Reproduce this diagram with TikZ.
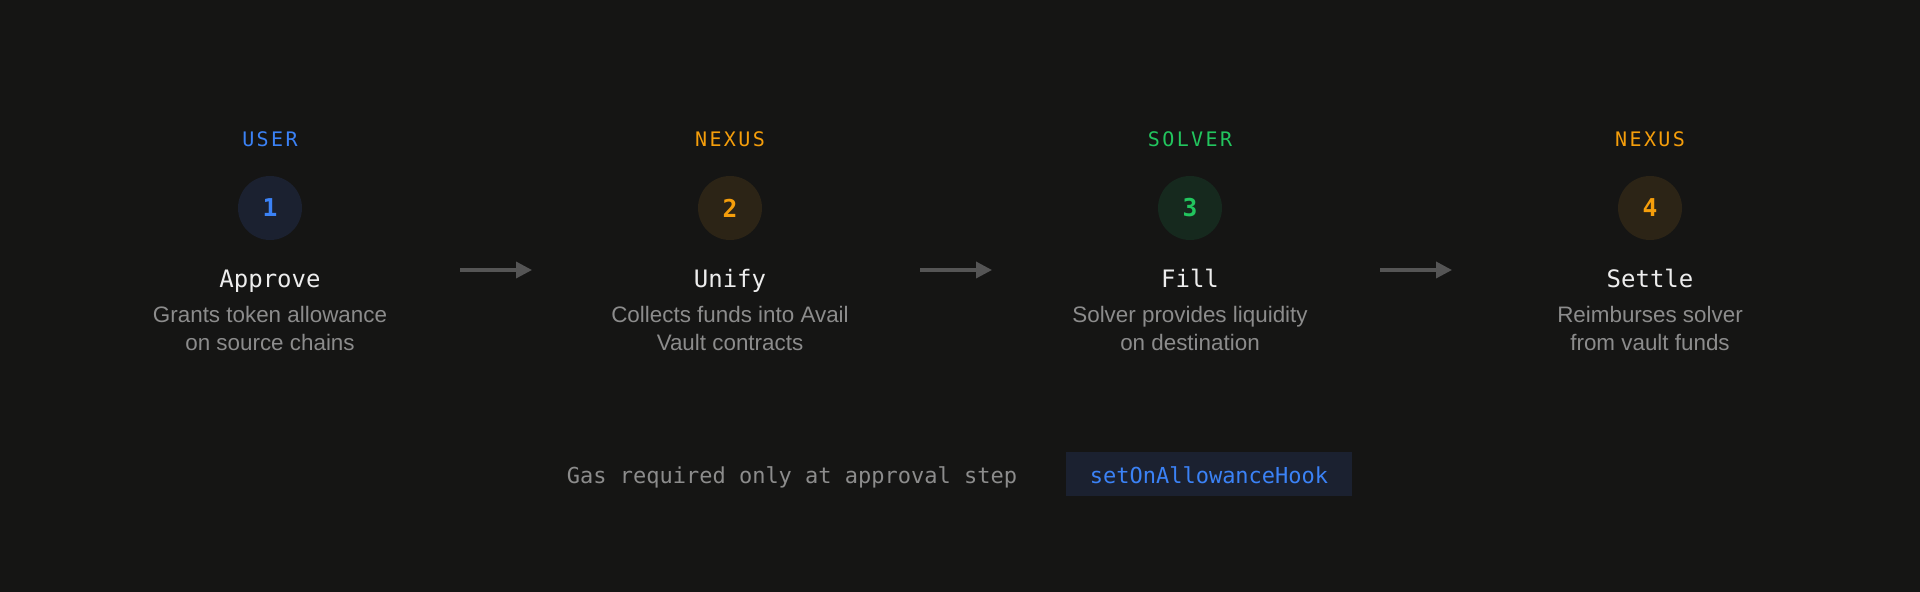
\documentclass[tikz,border=0pt]{standalone}
\usepackage{fontspec}
\usetikzlibrary{arrows.meta}
\setmainfont{Liberation Sans}
\newfontfamily\monofont{DejaVu Sans Mono}
\newfontfamily\labfont[LetterSpace=12]{DejaVu Sans Mono}
\definecolor{bg}{HTML}{151514}
\definecolor{cblue}{HTML}{3B82F6}
\definecolor{corange}{HTML}{F59E0B}
\definecolor{cgreen}{HTML}{22C55E}
\definecolor{fblue}{HTML}{1B2130}
\definecolor{forange}{HTML}{2C2416}
\definecolor{fgreen}{HTML}{16291E}
\definecolor{ctitle}{HTML}{EDEDED}
\definecolor{cdesc}{HTML}{8C8C8C}
\definecolor{carrow}{HTML}{555555}
\definecolor{fbox}{HTML}{1B2130}
\begin{document}
\begin{tikzpicture}[x=0.5pt,y=-0.5pt,
  role/.style={anchor=base,inner sep=0pt,font=\labfont\fontsize{10}{12}\selectfont},
  numdisc/.style={circle,minimum size=32pt,inner sep=0pt,font=\monofont\bfseries\fontsize{12.3}{14}\selectfont},
  steptitle/.style={anchor=base,inner sep=0pt,text=ctitle,font=\monofont\fontsize{12}{14}\selectfont},
  desc/.style={anchor=base,inner sep=0pt,text=cdesc,font=\fontsize{11.2}{14}\selectfont},
  flow/.style={draw=carrow,line width=1.7pt,-{Triangle[length=8pt,width=8pt]}},
  note/.style={anchor=base,inner sep=0pt,text=cdesc,font=\monofont\fontsize{11}{13}\selectfont},
  codebox/.style={fill=fbox,minimum width=143pt,minimum height=22pt,inner sep=0pt}]
\fill[bg] (0,0) rectangle (1920,592);
\useasboundingbox (0,0) rectangle (1920,592);

% step 1
\node[role,text=cblue] (r1) at (270,147) {USER};
\node[numdisc,fill=fblue,text=cblue] (n1) at (270,208) {1};
\node[steptitle] (t1) at (270,288) {Approve};
\node[desc] (d1a) at (270,323) {Grants token allowance};
\node[desc] (d1b) at (270,351) {on source chains};

% step 2
\node[role,text=corange] (r2) at (730,147) {NEXUS};
\node[numdisc,fill=forange,text=corange] (n2) at (730,208) {2};
\node[steptitle] (t2) at (730,288) {Unify};
\node[desc] (d2a) at (730,323) {Collects funds into Avail};
\node[desc] (d2b) at (730,351) {Vault contracts};

% step 3
\node[role,text=cgreen] (r3) at (1190,147) {SOLVER};
\node[numdisc,fill=fgreen,text=cgreen] (n3) at (1190,208) {3};
\node[steptitle] (t3) at (1190,288) {Fill};
\node[desc] (d3a) at (1190,323) {Solver provides liquidity};
\node[desc] (d3b) at (1190,351) {on destination};

% step 4
\node[role,text=corange] (r4) at (1650,147) {NEXUS};
\node[numdisc,fill=forange,text=corange] (n4) at (1650,208) {4};
\node[steptitle] (t4) at (1650,288) {Settle};
\node[desc] (d4a) at (1650,323) {Reimburses solver};
\node[desc] (d4b) at (1650,351) {from vault funds};

% arrows
\coordinate (a1s) at (460,270); \coordinate (a1e) at (532,270);
\coordinate (a2s) at (920,270); \coordinate (a2e) at (992,270);
\coordinate (a3s) at (1380,270); \coordinate (a3e) at (1452,270);
\draw[flow] (a1s) -- (a1e);
\draw[flow] (a2s) -- (a2e);
\draw[flow] (a3s) -- (a3e);

% bottom note
\node[note] (gas) at (792,483) {Gas required only at approval step};
\node[codebox] (hookbox) at (1209,474) {};
\node[note,text=cblue] (hook) at (1209,483) {setOnAllowanceHook};
\end{tikzpicture}
\end{document}
